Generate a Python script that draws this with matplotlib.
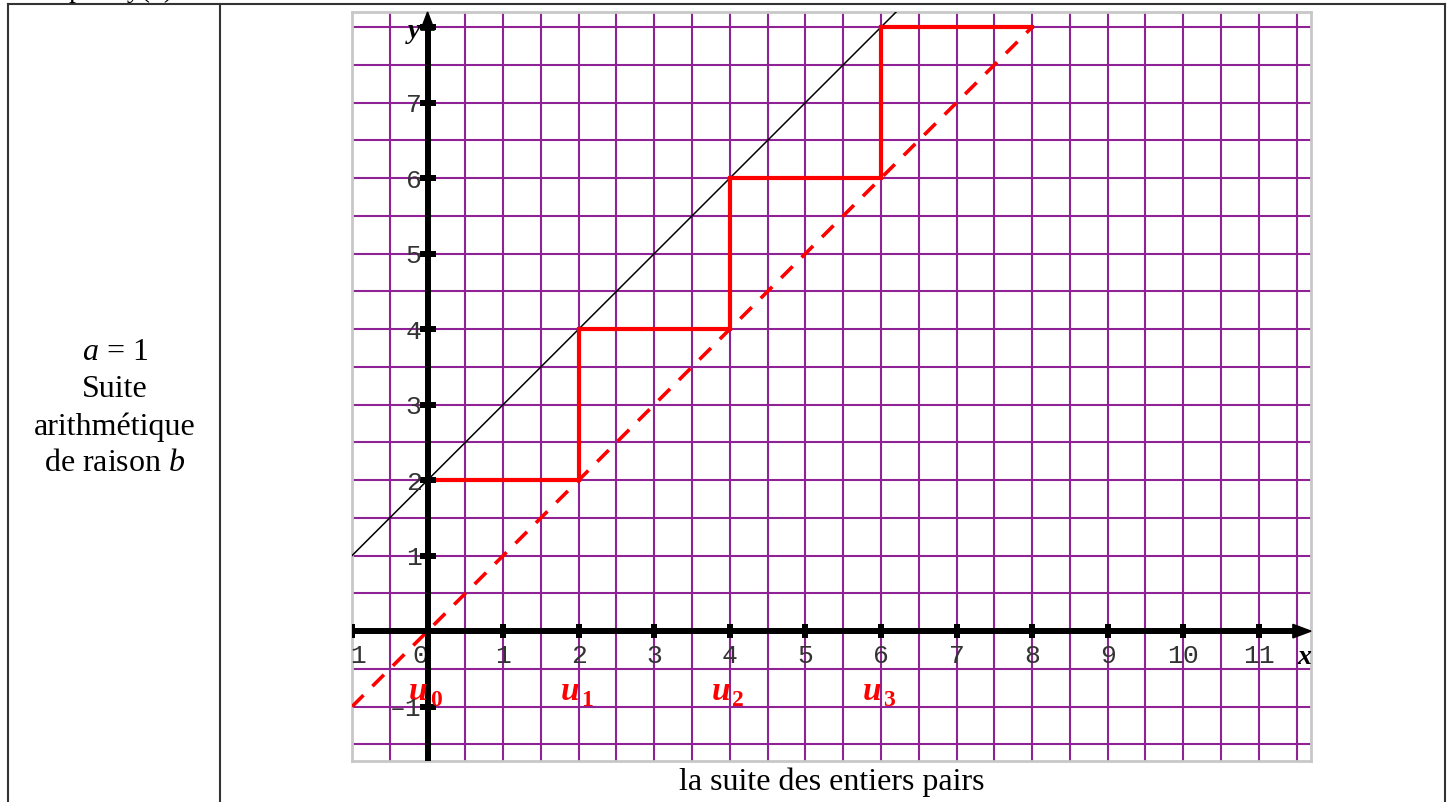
import matplotlib
matplotlib.use("Agg")
import matplotlib.pyplot as plt
from matplotlib.lines import Line2D
from matplotlib.patches import Polygon

plt.rcParams['mathtext.fontset'] = 'custom'
plt.rcParams['mathtext.rm'] = 'Liberation Serif'
plt.rcParams['mathtext.it'] = 'Liberation Serif:italic'
plt.rcParams['mathtext.bf'] = 'Liberation Serif:bold'

# data
x_ticks = [-1, 1, 2, 3, 4, 5, 6, 7, 8, 9, 10, 11]
x_labels = ['–1', '1', '2', '3', '4', '5', '6', '7', '8', '9', '10', '11']
y_ticks = [-1, 1, 2, 3, 4, 5, 6, 7, 8]
y_labels = ['–1', '1', '2', '3', '4', '5', '6', '7', '']
line_x = [-1, 6.2]          # y = x + 2
line_y = [1, 8.2]
diag_x = [-1, 8]            # y = x
diag_y = [-1, 8]
stair_x = [0, 2, 2, 4, 4, 6, 6, 8]
stair_y = [2, 2, 4, 4, 6, 6, 8, 8]
u_names = ['0', '1', '2', '3']
u_pos = [0, 2, 4, 6]

xmin, xmax = -1, 11.69
ymin, ymax = -1.72, 8.2

W, H = 1452, 803
fig = plt.figure(figsize=(W / 100, H / 100), dpi=100)

# table frame
lc = '#333333'
fig.add_artist(Line2D([8 / W, 1445 / W], [1 - 5 / H, 1 - 5 / H], color=lc, lw=1.5))
for px in [8, 220, 1445]:
    fig.add_artist(Line2D([px / W, px / W], [0, 1 - 5 / H], color=lc, lw=1.5))

# half hidden text above the table
fig.text(0 / W, 1 + 3 / H, 'Tracé pour y(x)', family='Liberation Serif', fontsize=20,
         ha='left', va='baseline')

serif = dict(family='Liberation Serif', fontsize=23, ha='center', va='center')
fig.text(115 / W, 1 - 353 / H, '$a$ = 1', **serif)
fig.text(115 / W, 1 - 390 / H, 'Suite', **serif)
fig.text(115 / W, 1 - 427 / H, 'arithmétique', **serif)
fig.text(115 / W, 1 - 464 / H, 'de raison $b$', **serif)
fig.text(832 / W, 1 - 782 / H, 'la suite des entiers pairs', **serif)

ax = fig.add_axes([352 / W, 1 - 762 / H, (1311 - 352) / W, (762 - 13) / H])
ax.set_xlim(xmin, xmax)
ax.set_ylim(ymin, ymax)
ax.set_xticks([])
ax.set_yticks([])
for s in ax.spines.values():
    s.set_color('#c8c8c8')
    s.set_linewidth(2)

# grid
gc = '#8f2294'
g = -1.0
while g <= xmax:
    ax.axvline(g, color=gc, lw=1.5, zorder=1)
    g += 0.5
g = -1.5
while g <= ymax:
    ax.axhline(g, color=gc, lw=1.5, zorder=1)
    g += 0.5

# axes with arrows
ax.plot([xmin, xmax - 0.15], [0, 0], color='black', lw=4.3, zorder=4, solid_capstyle='butt')
ax.plot([0, 0], [ymin, ymax - 0.15], color='black', lw=4.3, zorder=4, solid_capstyle='butt')
ax.add_patch(Polygon([[xmax, 0], [xmax - 0.24, 0.09], [xmax - 0.24, -0.09]],
                     closed=True, color='black', zorder=5, clip_on=False))
ax.add_patch(Polygon([[0, ymax], [-0.09, ymax - 0.24], [0.09, ymax - 0.24]],
                     closed=True, color='black', zorder=5, clip_on=False))
ax.plot(x_ticks, [0] * len(x_ticks), ls='none', marker='|', ms=10, mew=4.3,
        color='black', zorder=5)
ax.plot([0] * len(y_ticks), y_ticks, ls='none', marker='_', ms=11.5, mew=4.3,
        color='black', zorder=5)

tick_font = dict(family='Liberation Mono', fontsize=19, color='#333333')
for xt, lab in zip(x_ticks, x_labels):
    ax.text(xt, -0.31, lab, ha='center', va='center', clip_on=True, **tick_font)
ax.text(-0.1, -0.31, '0', ha='center', va='center', **tick_font)
for yt, lab in zip(y_ticks, y_labels):
    ax.text(-0.08, yt - 0.02, lab, ha='right', va='center', zorder=7, **tick_font)

ax.text(-0.1, 7.95, 'y', family='Liberation Serif', style='italic', weight='bold',
        fontsize=20, ha='right', va='center', zorder=6)
ax.text(11.6, -0.34, 'x', family='Liberation Serif', style='italic', weight='bold',
        fontsize=20, ha='center', va='center', zorder=6)

# function and bisector
ax.plot(line_x, line_y, color='black', lw=1.1, zorder=3)
ax.plot(diag_x, diag_y, color='red', lw=2.6, dashes=(4.5, 3.5), zorder=3)
ax.plot(stair_x, stair_y, color='red', lw=3, zorder=3, solid_joinstyle='miter')

for name, p in zip(u_names, u_pos):
    ax.text(p - 0.12, -0.9, 'u', family='Liberation Serif', style='italic', weight='bold',
            fontsize=24, color='red', ha='center', va='baseline', zorder=6)
    ax.text(p + 0.11, -0.98, name, family='Liberation Serif', weight='bold',
            fontsize=17, color='red', ha='center', va='baseline', zorder=6)

fig.savefig('out.png', dpi=100)
